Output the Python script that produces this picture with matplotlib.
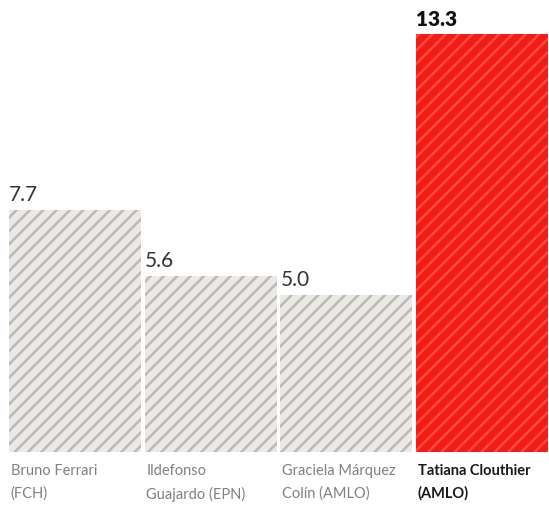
import matplotlib
matplotlib.use("Agg")
import matplotlib.pyplot as plt

names = ["Bruno Ferrari\n(FCH)", "Ildefonso\nGuajardo (EPN)",
         "Graciela Márquez\nColín (AMLO)", "Tatiana Clouthier\n(AMLO)"]
values = [7.7, 5.6, 5.0, 13.3]
value_labels = ["7.7", "5.6", "5.0", "13.3"]

face = ["#ebe9e6", "#ebe9e6", "#ebe9e6", "#f21c16"]
stripe = ["#bdb8b3", "#bdb8b3", "#bdb8b3", "#ff4a3c"]

plt.rcParams['hatch.linewidth'] = 1.5
plt.rcParams['font.family'] = ['Lato', 'DejaVu Sans']

dpi = 120
fig = plt.figure(figsize=(549 / dpi, 510 / dpi), dpi=dpi)
ax = fig.add_axes([0, 58 / 510, 1, 452 / 510])

x = list(range(len(values)))
for i in x:
    ax.bar(i, values[i], width=0.973, align='edge', color=face[i],
           edgecolor=stripe[i], linewidth=0, hatch='///')

for i in x:
    last = i == len(values) - 1
    ax.annotate(value_labels[i], xy=(i, values[i]), xytext=(0, 3),
                textcoords='offset points', ha='left', va='bottom',
                fontsize=12.5, color='#111111' if last else '#333333',
                fontweight='heavy' if last else 'normal')
    ax.annotate(names[i], xy=(i, 0), xycoords=('data', 'axes fraction'),
                xytext=(1, -7), textcoords='offset points', ha='left', va='top',
                fontsize=8.8, linespacing=1.75,
                color='#1a1a1a' if last else '#808080',
                fontweight='bold' if last else 'normal',
                annotation_clip=False)

ax.set_xlim(-9 / 135.7, 540 / 135.7)
ax.set_ylim(0, 452 / 31.4)
ax.axis('off')

fig.savefig('out.png', dpi=dpi)
